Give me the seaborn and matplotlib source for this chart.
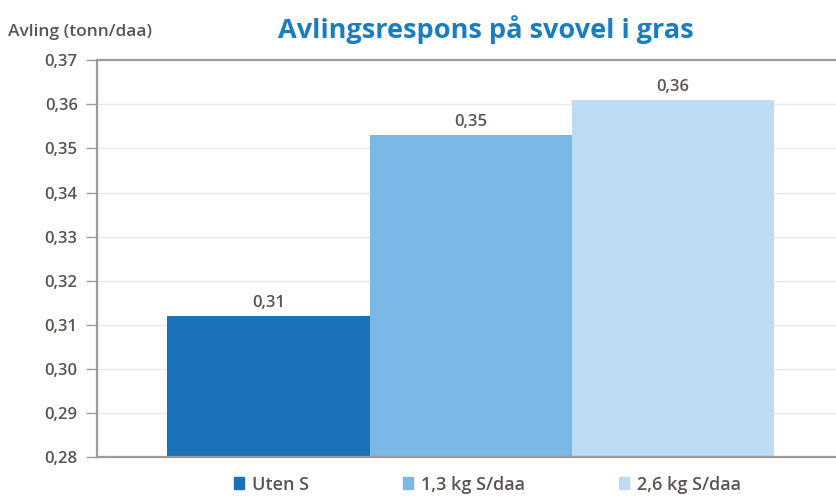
import numpy as np
import pandas as pd
import matplotlib
matplotlib.use("Agg")
import matplotlib.pyplot as plt
import seaborn as sns

# Data
treatments = ["Uten S", "1,3 kg S/daa", "2,6 kg S/daa"]
yields = [0.312, 0.353, 0.361]
value_labels = ["0,31", "0,35", "0,36"]
bar_colors = ["#1a72bb", "#7ab8e5", "#bcdcf4"]
y_ticks = [0.28, 0.29, 0.30, 0.31, 0.32, 0.33, 0.34, 0.35, 0.36, 0.37]

df = pd.DataFrame({"group": [""] * len(treatments), "treatment": treatments, "yield": yields})

sns.set_theme(style="white")
plt.rcParams["font.family"] = ["Open Sans", "DejaVu Sans"]
text_color = "#5b5552"

fig = plt.figure(figsize=(8.37, 4.97), dpi=100)
ax = fig.add_axes([0.116, 0.080, 0.884, 0.799])

sns.barplot(data=df, x="group", y="yield", hue="treatment", hue_order=treatments,
            palette=bar_colors, width=0.82, gap=0, saturation=1, ax=ax, legend=False,
            linewidth=0, edgecolor="none")

ax.set_ylim(0.28, 0.37)
ax.set_xlim(-0.505, 0.495)
ax.set_yticks(y_ticks)
ax.set_yticklabels([f"{t:.2f}".replace(".", ",") for t in y_ticks],
                   fontsize=12, fontweight="semibold", color=text_color)
ax.set_xticks([])
ax.set_xlabel("")
ax.set_ylabel("")
ax.yaxis.grid(True, color="#ebe8e6", linewidth=1)
ax.set_axisbelow(True)
ax.tick_params(axis="y", which="major", left=True, length=8, width=1, color="#a09a96", pad=6)

ax.spines["right"].set_visible(False)
for side in ["left", "bottom", "top"]:
    ax.spines[side].set_color("#a09a96")
    ax.spines[side].set_linewidth(1.6)

for patch, lab in zip(ax.patches, value_labels):
    ax.text(patch.get_x() + patch.get_width() / 2, patch.get_height() + 0.0012, lab,
            ha="center", va="bottom", fontsize=12, fontweight="semibold", color=text_color)

fig.text(0.58, 0.94, "Avlingsrespons på svovel i gras", ha="center", va="center",
         fontsize=19.5, fontweight="bold", color="#1a7cc1")
fig.text(0.010, 0.935, "Avling (tonn/daa)", ha="left", va="center",
         fontsize=12.5, fontweight="semibold", color=text_color)

handles = [plt.Rectangle((0, 0), 1, 1, color=c) for c in bar_colors]
leg = fig.legend(handles, treatments, loc="center", bbox_to_anchor=(0.582, 0.025), ncol=3,
                 frameon=False, handlelength=0.6, handleheight=0.6, handletextpad=0.4,
                 columnspacing=5.2, prop={"size": 13, "weight": "semibold"})
for t in leg.get_texts():
    t.set_color(text_color)

fig.savefig("out.png", dpi=100)
